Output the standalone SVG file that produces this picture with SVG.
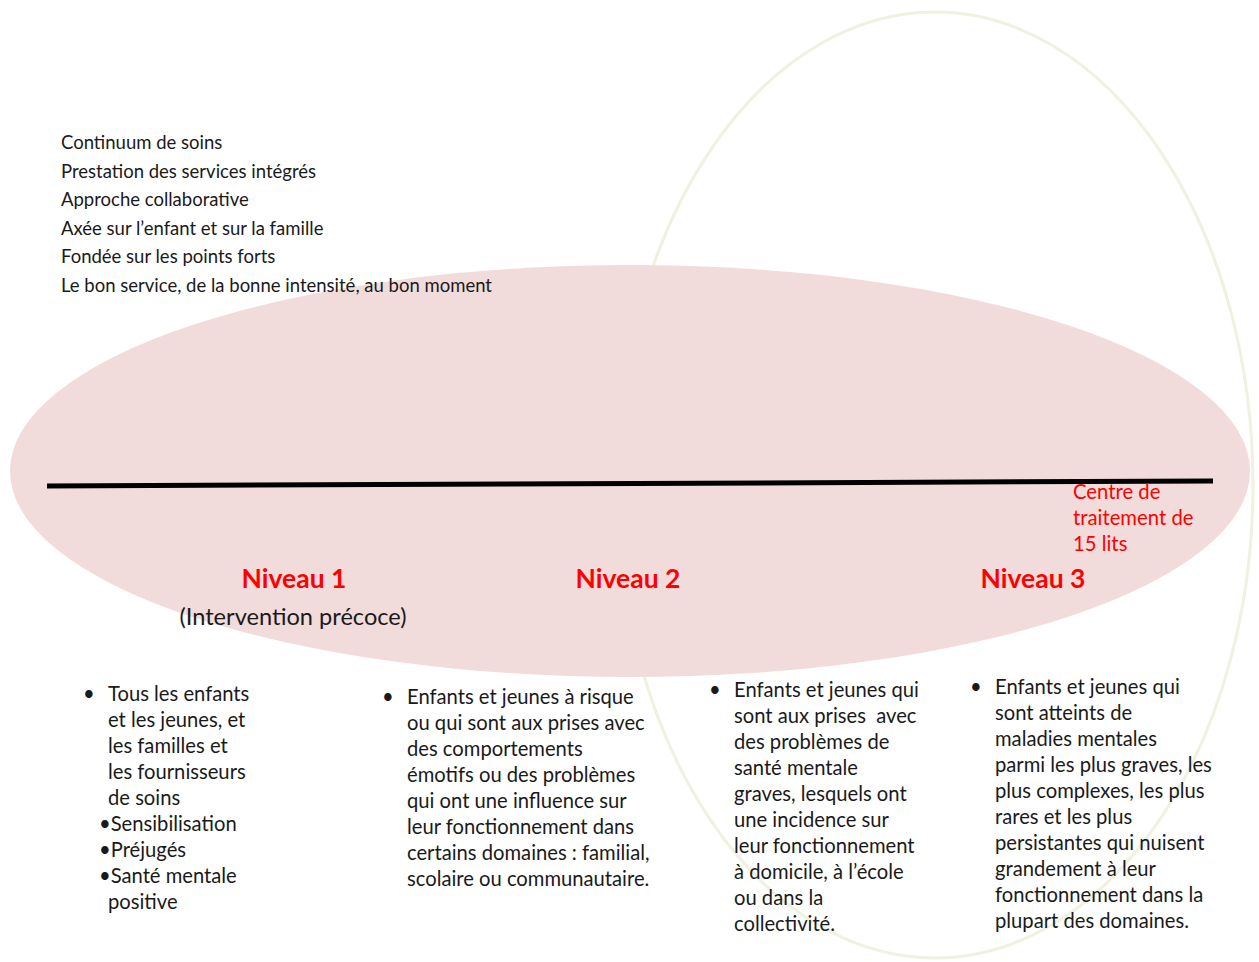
<svg xmlns="http://www.w3.org/2000/svg" width="1259" height="962" viewBox="0 0 1259 962">
<style>
.t{font-family:Lato,"Open Sans",sans-serif;fill:#1a1a1a}
.top{font-size:18.5px}
.b{font-size:20.2px}
.lvl{font-family:Lato,"Open Sans",sans-serif;font-size:26.5px;font-weight:bold;fill:#ff0000}
.red{font-family:Lato,"Open Sans",sans-serif;font-size:20.3px;fill:#ff0000}
</style>
<rect width="1259" height="962" fill="#ffffff"/>
<g id="cream-ellipse"><ellipse cx="935" cy="485" rx="318" ry="473" fill="none" stroke="#eef2df" stroke-width="3"/></g>
<g id="pink-ellipse"><ellipse cx="630" cy="471" rx="620" ry="206" fill="#f2dcdb"/></g>
<g id="connectors"><line x1="47" y1="486" x2="1213" y2="481" stroke="#000" stroke-width="5"/></g>
<g id="principles" class="t top">
<text x="61" y="149">Continuum de soins</text>
<text x="61" y="178">Prestation des services intégrés</text>
<text x="61" y="206">Approche collaborative</text>
<text x="61" y="235">Axée sur l’enfant et sur la famille</text>
<text x="61" y="263">Fondée sur les points forts</text>
<text x="61" y="292">Le bon service, de la bonne intensité, au bon moment</text>
</g>
<g id="centre"><text class="red" x="1073" y="499">Centre de</text><text class="red" x="1073" y="525">traitement de</text><text class="red" x="1073" y="551">15 lits</text></g>
<g id="niveau1">
<text class="lvl" x="294" y="588" text-anchor="middle">Niveau 1</text>
<text class="t" x="293" y="625" text-anchor="middle" font-size="23.6">(Intervention précoce)</text>
</g>
<g id="niveau2"><text class="lvl" x="628" y="588" text-anchor="middle">Niveau 2</text></g>
<g id="niveau3"><text class="lvl" x="1033" y="588" text-anchor="middle">Niveau 3</text></g>
<g id="col1" class="t b">
<text x="83" y="701">•</text>
<text x="108" y="701">Tous les enfants</text>
<text x="108" y="727">et les jeunes, et</text>
<text x="108" y="753">les familles et</text>
<text x="108" y="779">les fournisseurs</text>
<text x="108" y="805">de soins</text>
<text x="99" y="831">•Sensibilisation</text>
<text x="99" y="857">•Préjugés</text>
<text x="99" y="883">•Santé mentale</text>
<text x="108" y="909">positive</text>
</g>
<g id="col2" class="t b">
<text x="382" y="704">•</text>
<text x="407" y="704">Enfants et jeunes à risque</text>
<text x="407" y="730">ou qui sont aux prises avec</text>
<text x="407" y="756">des comportements</text>
<text x="407" y="782">émotifs ou des problèmes</text>
<text x="407" y="808">qui ont une influence sur</text>
<text x="407" y="834">leur fonctionnement dans</text>
<text x="407" y="860">certains domaines : familial,</text>
<text x="407" y="886">scolaire ou communautaire.</text>
</g>
<g id="col3" class="t b">
<text x="709" y="697">•</text>
<text x="734" y="697">Enfants et jeunes qui</text>
<text x="734" y="723" xml:space="preserve">sont aux prises  avec</text>
<text x="734" y="749">des problèmes de</text>
<text x="734" y="775">santé mentale</text>
<text x="734" y="801">graves, lesquels ont</text>
<text x="734" y="827">une incidence sur</text>
<text x="734" y="853">leur fonctionnement</text>
<text x="734" y="879">à domicile, à l’école</text>
<text x="734" y="905">ou dans la</text>
<text x="734" y="931">collectivité.</text>
</g>
<g id="col4" class="t b">
<text x="970" y="694">•</text>
<text x="995" y="694">Enfants et jeunes qui</text>
<text x="995" y="720">sont atteints de</text>
<text x="995" y="746">maladies mentales</text>
<text x="995" y="772">parmi les plus graves, les</text>
<text x="995" y="798">plus complexes, les plus</text>
<text x="995" y="824">rares et les plus</text>
<text x="995" y="850">persistantes qui nuisent</text>
<text x="995" y="876">grandement à leur</text>
<text x="995" y="902">fonctionnement dans la</text>
<text x="995" y="928">plupart des domaines.</text>
</g>
</svg>
